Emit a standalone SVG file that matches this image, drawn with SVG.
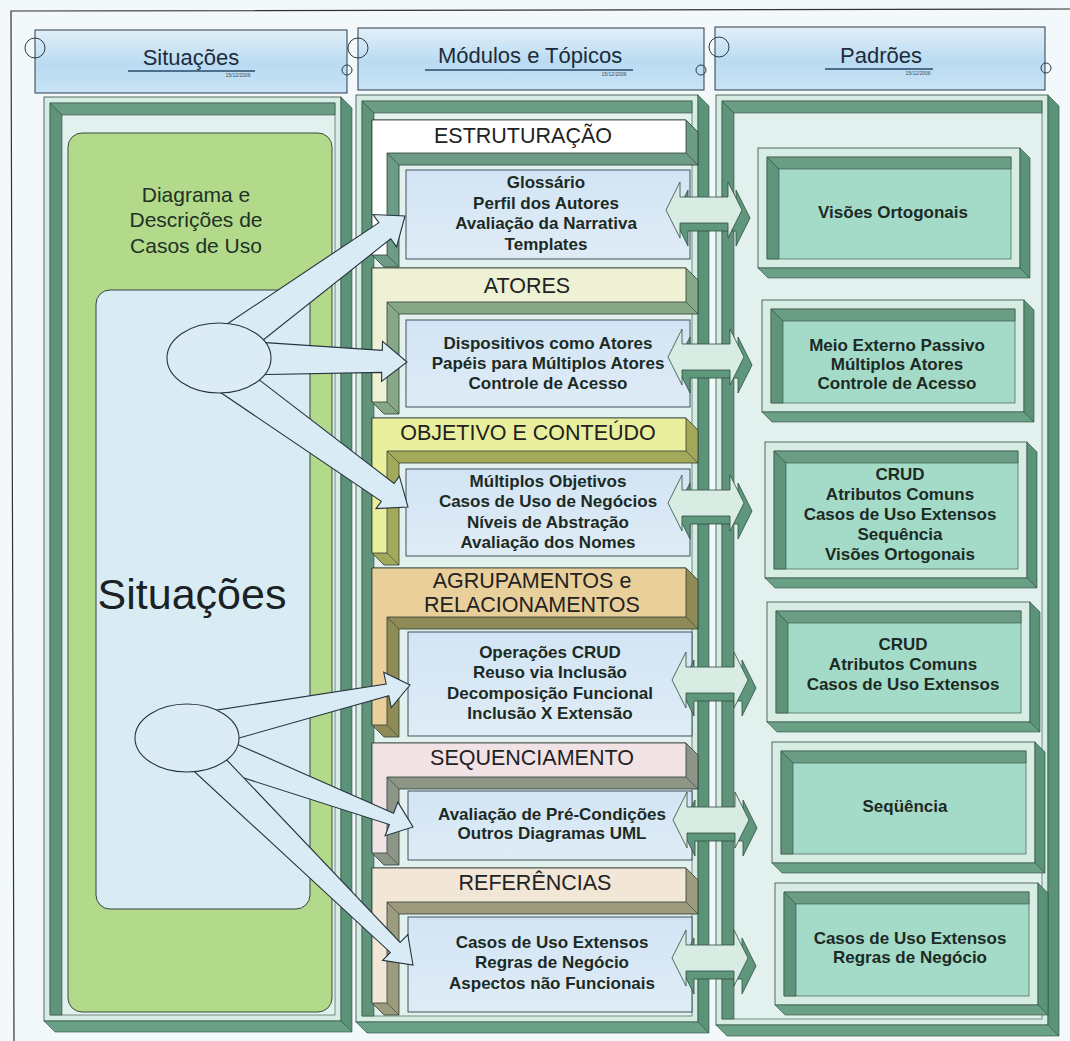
<svg xmlns="http://www.w3.org/2000/svg" xmlns:xlink="http://www.w3.org/1999/xlink" width="1070" height="1041" viewBox="0 0 1070 1041">
<defs>
<linearGradient id="hdr" x1="0" y1="0" x2="0" y2="1">
<stop offset="0" stop-color="#e2eff8"/><stop offset="0.55" stop-color="#b9dbf2"/><stop offset="1" stop-color="#c8e3f5"/>
</linearGradient>
<linearGradient id="cbox" x1="0" y1="0" x2="0" y2="1">
<stop offset="0" stop-color="#d2e4f4"/><stop offset="1" stop-color="#dfecf6"/>
</linearGradient>
<g id="dbl">
<path class="dx" d="M8,8 L22,-20 L22,-5 L70,-5 L70,-20 L84,8 L70,36 L70,21 L22,21 L22,36 Z"/>
<path class="df" d="M0,0 L14,-28 L14,-13 L62,-13 L62,-28 L76,0 L62,28 L62,13 L14,13 L14,28 Z"/>
</g>
</defs>
<style>
.ff{fill:#d7ece3;stroke:#2d4b3f;stroke-width:0.8}
.hole{fill:#e3f1ee;stroke:#2d4b3f;stroke-width:0.6}
.wt{fill:#6b9d85;stroke:#2d4b3f;stroke-width:0.6}
.wl{fill:#5f947b;stroke:#2d4b3f;stroke-width:0.6}
.ex{fill:#5b9378;stroke:#2d4b3f;stroke-width:0.6}
.exb{fill:#6aa186;stroke:#2d4b3f;stroke-width:0.6}
.pc{fill:#a4dac8;stroke:#2d4b3f;stroke-width:0.6}
.hb{fill:url(#hdr);stroke:#2b3a48;stroke-width:1}
.hc{fill:none;stroke:#2b3a48;stroke-width:1}
.ht{font-family:"Liberation Sans",Arial,sans-serif;font-size:22px;fill:#1d2b3a;text-anchor:middle}
.hd{font-family:"Liberation Sans",Arial,sans-serif;font-size:5px;fill:#3a4a5a;text-anchor:middle}
.hu{stroke:#2a4a6a;stroke-width:1.5}
.st{font-family:"Liberation Sans",Arial,sans-serif;font-size:21.5px;fill:#222;text-anchor:middle}
.bt{font-family:"Liberation Sans",Arial,sans-serif;font-size:17px;font-weight:bold;fill:#1c2a24;text-anchor:middle}
.cb{fill:url(#cbox);stroke:#2f3f4f;stroke-width:0.9}
.gl{fill:none;stroke:#2e3e36;stroke-width:0.6}
.gf{stroke:#2e3e36;stroke-width:0.8}
.ba{fill:#d9ebf5;stroke:#26343e;stroke-width:1.1}
.df{fill:#d8ece4;stroke:#2d4b3f;stroke-width:0.8}
.dx{fill:#5f977c;stroke:#2d4b3f;stroke-width:0.8}
</style>
<rect width="1070" height="1041" fill="#f3f8fa"/>
<path d="M14,1041 L11,11 L1070,9" fill="none" stroke="#333" stroke-width="1.2"/>

<!-- column headers -->
<g id="hdr-situacoes">
<rect class="hb" x="35" y="30" width="312" height="63"/>
<circle class="hc" cx="35" cy="48" r="10"/>
<circle class="hc" cx="347" cy="70" r="5"/>
<text class="ht" x="191" y="65">Situações</text>
<line class="hu" x1="128" y1="71" x2="255" y2="71"/>
<text class="hd" x="238" y="77">15/12/2006</text>
</g>
<g id="hdr-modulos">
<rect class="hb" x="358" y="28" width="346" height="62"/>
<circle class="hc" cx="358" cy="48" r="10"/>
<circle class="hc" cx="701" cy="70" r="5"/>
<text class="ht" x="530" y="63">Módulos e Tópicos</text>
<line class="hu" x1="425" y1="70" x2="633" y2="70"/>
<text class="hd" x="614" y="76">15/12/2006</text>
</g>
<g id="hdr-padroes">
<rect class="hb" x="715" y="27" width="330" height="63"/>
<circle class="hc" cx="719" cy="47" r="10"/>
<circle class="hc" cx="1046" cy="68" r="5"/>
<text class="ht" x="881" y="63">Padrões</text>
<line class="hu" x1="825" y1="69" x2="933" y2="69"/>
<text class="hd" x="918" y="75">15/12/2006</text>
</g>

<!-- column frames -->
<g id="frame-left">
<rect class="ff" x="44" y="97" width="297" height="924"/>
<rect class="hole" x="50" y="103" width="285" height="912"/>
<polygon class="wt" points="50,103 335,103 335,115 62,115"/>
<polygon class="wl" points="50,103 62,115 62,1015 50,1015"/>
<polygon class="ex" points="341,97 352,108 352,1032 341,1021"/>
<polygon class="exb" points="44,1021 341,1021 352,1032 55,1032"/>
</g>
<g id="frame-middle">
<rect class="ff" x="356" y="95" width="342" height="927"/>
<rect class="hole" x="362" y="101" width="330" height="915"/>
<polygon class="wt" points="362,101 692,101 692,113 374,113"/>
<polygon class="wl" points="362,101 374,113 374,1016 362,1016"/>
<polygon class="ex" points="698,95 709,106 709,1033 698,1022"/>
<polygon class="exb" points="356,1022 698,1022 709,1033 367,1033"/>
</g>
<g id="frame-right">
<rect class="ff" x="716" y="95" width="332" height="930"/>
<rect class="hole" x="722" y="101" width="320" height="918"/>
<polygon class="wt" points="722,101 1042,101 1042,113 734,113"/>
<polygon class="wl" points="722,101 734,113 734,1019 722,1019"/>
<polygon class="ex" points="1048,95 1059,106 1059,1036 1048,1025"/>
<polygon class="exb" points="716,1025 1048,1025 1059,1036 727,1036"/>
</g>

<!-- left column content -->
<g id="situacoes-area">
<rect x="68" y="133" width="264" height="879" rx="14" fill="#b3d98a" stroke="#34503a" stroke-width="1"/>
<text class="st" x="196" y="202" style="font-size:21px;fill:#1e3226">Diagrama e</text>
<text class="st" x="196" y="227" style="font-size:21px;fill:#1e3226">Descrições de</text>
<text class="st" x="196" y="253" style="font-size:21px;fill:#1e3226">Casos de Uso</text>
<rect x="96" y="290" width="214" height="619" rx="14" fill="#d9ebf3" stroke="#34424e" stroke-width="1"/>
<text class="st" x="192" y="609" style="font-size:43px;fill:#1a2226">Situações</text>
</g>

<!-- middle sections -->
<g id="sec-estruturacao">
<path class="gf" fill="#6d9c86" d="M372,120 L686,120 L698,132 L698,165 L399,165 L399,267 L384,267 L372,255 Z"/>
<path class="gf" fill="#ffffff" d="M372,120 H686 V153 H387 V255 H372 Z"/>
<path class="gl" d="M686,153 L698,165 M387,153 L399,165 M387,255 L399,267"/>
<text class="st" x="523" y="143">ESTRUTURAÇÃO</text>
<rect class="cb" x="406" y="170" width="284" height="89"/>
<text class="bt" x="546" y="188">Glossário</text>
<text class="bt" x="546" y="208.5">Perfil dos Autores</text>
<text class="bt" x="546" y="229">Avaliação da Narrativa</text>
<text class="bt" x="546" y="249.5">Templates</text>
</g>
<g id="sec-atores">
<path class="gf" fill="#86a887" d="M372,268 L686,268 L698,280 L698,314 L399,314 L399,414 L384,414 L372,402 Z"/>
<path class="gf" fill="#eef1d4" d="M372,268 H686 V302 H387 V402 H372 Z"/>
<path class="gl" d="M686,302 L698,314 M387,302 L399,314 M387,402 L399,414"/>
<text class="st" x="527" y="293">ATORES</text>
<rect class="cb" x="406" y="320" width="284" height="87"/>
<text class="bt" x="548" y="349">Dispositivos como Atores</text>
<text class="bt" x="548" y="369">Papéis para Múltiplos Atores</text>
<text class="bt" x="548" y="389">Controle de Acesso</text>
</g>
<g id="sec-objetivo">
<path class="gf" fill="#a3a95a" d="M372,418 L686,418 L698,430 L698,463 L399,463 L399,565 L384,565 L372,553 Z"/>
<path class="gf" fill="#e9ef9c" d="M372,418 H686 V451 H387 V553 H372 Z"/>
<path class="gl" d="M686,451 L698,463 M387,451 L399,463 M387,553 L399,565"/>
<text class="st" x="528" y="440">OBJETIVO E CONTEÚDO</text>
<rect class="cb" x="406" y="469" width="284" height="87"/>
<text class="bt" x="548" y="487">Múltiplos Objetivos</text>
<text class="bt" x="548" y="507">Casos de Uso de Negócios</text>
<text class="bt" x="548" y="528">Níveis de Abstração</text>
<text class="bt" x="548" y="548">Avaliação dos Nomes</text>
</g>
<g id="sec-agrupamentos">
<path class="gf" fill="#8e8b56" d="M372,568 L686,568 L698,580 L698,629 L399,629 L399,737 L384,737 L372,725 Z"/>
<path class="gf" fill="#e9cf9a" d="M372,568 H686 V617 H387 V725 H372 Z"/>
<path class="gl" d="M686,617 L698,629 M387,617 L399,629 M387,725 L399,737"/>
<text class="st" x="532" y="588">AGRUPAMENTOS e</text>
<text class="st" x="532" y="612">RELACIONAMENTOS</text>
<rect class="cb" x="408" y="632" width="284" height="104"/>
<text class="bt" x="550" y="658">Operações CRUD</text>
<text class="bt" x="550" y="678">Reuso via Inclusão</text>
<text class="bt" x="550" y="699">Decomposição Funcional</text>
<text class="bt" x="550" y="719">Inclusão X Extensão</text>
</g>
<g id="sec-sequenciamento">
<path class="gf" fill="#8d9686" d="M372,743 L686,743 L698,755 L698,789 L399,789 L399,865 L384,865 L372,853 Z"/>
<path class="gf" fill="#f1e2e6" d="M372,743 H686 V777 H387 V853 H372 Z"/>
<path class="gl" d="M686,777 L698,789 M387,777 L399,789 M387,853 L399,865"/>
<text class="st" x="532" y="765">SEQUENCIAMENTO</text>
<rect class="cb" x="408" y="791" width="284" height="69"/>
<text class="bt" x="552" y="820">Avaliação de Pré-Condições</text>
<text class="bt" x="552" y="839">Outros Diagramas UML</text>
</g>
<g id="sec-referencias">
<path class="gf" fill="#9c9b7e" d="M372,868 L686,868 L698,880 L698,914 L399,914 L399,1015 L384,1015 L372,1003 Z"/>
<path class="gf" fill="#f2e6d6" d="M372,868 H686 V902 H387 V1003 H372 Z"/>
<path class="gl" d="M686,902 L698,914 M387,902 L399,914 M387,1003 L399,1015"/>
<text class="st" x="535" y="890">REFERÊNCIAS</text>
<rect class="cb" x="408" y="917" width="284" height="95"/>
<text class="bt" x="552" y="948">Casos de Uso Extensos</text>
<text class="bt" x="552" y="968">Regras de Negócio</text>
<text class="bt" x="552" y="989">Aspectos não Funcionais</text>
</g>

<!-- pattern boxes -->
<g id="pad-1">
<rect class="ff" x="758" y="148" width="262" height="120"/>
<rect class="pc" x="767" y="157" width="244" height="102"/>
<polygon class="wt" points="767,157 1011,157 1011,169 779,169"/>
<polygon class="wl" points="767,157 779,169 779,259 767,259"/>
<polygon class="ex" points="1020,148 1030,158 1030,278 1020,268"/>
<polygon class="exb" points="758,268 1020,268 1030,278 768,278"/>
<text class="bt" x="893" y="218">Visões Ortogonais</text>
</g>
<g id="pad-2">
<rect class="ff" x="762" y="300" width="262" height="112"/>
<rect class="pc" x="771" y="309" width="244" height="94"/>
<polygon class="wt" points="771,309 1015,309 1015,321 783,321"/>
<polygon class="wl" points="771,309 783,321 783,403 771,403"/>
<polygon class="ex" points="1024,300 1034,310 1034,422 1024,412"/>
<polygon class="exb" points="762,412 1024,412 1034,422 772,422"/>
<text class="bt" x="897" y="351">Meio Externo Passivo</text>
<text class="bt" x="897" y="370">Múltiplos Atores</text>
<text class="bt" x="897" y="389">Controle de Acesso</text>
</g>
<g id="pad-3">
<rect class="ff" x="765" y="442" width="262" height="136"/>
<rect class="pc" x="774" y="451" width="244" height="118"/>
<polygon class="wt" points="774,451 1018,451 1018,463 786,463"/>
<polygon class="wl" points="774,451 786,463 786,569 774,569"/>
<polygon class="ex" points="1027,442 1037,452 1037,588 1027,578"/>
<polygon class="exb" points="765,578 1027,578 1037,588 775,588"/>
<text class="bt" x="900" y="480">CRUD</text>
<text class="bt" x="900" y="500">Atributos Comuns</text>
<text class="bt" x="900" y="520">Casos de Uso Extensos</text>
<text class="bt" x="900" y="540">Sequência</text>
<text class="bt" x="900" y="560">Visões Ortogonais</text>
</g>
<g id="pad-4">
<rect class="ff" x="767" y="602" width="263" height="120"/>
<rect class="pc" x="776" y="611" width="245" height="102"/>
<polygon class="wt" points="776,611 1021,611 1021,623 788,623"/>
<polygon class="wl" points="776,611 788,623 788,713 776,713"/>
<polygon class="ex" points="1030,602 1040,612 1040,732 1030,722"/>
<polygon class="exb" points="767,722 1030,722 1040,732 777,732"/>
<text class="bt" x="903" y="650">CRUD</text>
<text class="bt" x="903" y="670">Atributos Comuns</text>
<text class="bt" x="903" y="690">Casos de Uso Extensos</text>
</g>
<g id="pad-5">
<rect class="ff" x="772" y="742" width="263" height="121"/>
<rect class="pc" x="781" y="751" width="245" height="103"/>
<polygon class="wt" points="781,751 1026,751 1026,763 793,763"/>
<polygon class="wl" points="781,751 793,763 793,854 781,854"/>
<polygon class="ex" points="1035,742 1045,752 1045,873 1035,863"/>
<polygon class="exb" points="772,863 1035,863 1045,873 782,873"/>
<text class="bt" x="905" y="812">Seqüência</text>
</g>
<g id="pad-6">
<rect class="ff" x="775" y="883" width="263" height="122"/>
<rect class="pc" x="784" y="892" width="245" height="104"/>
<polygon class="wt" points="784,892 1029,892 1029,904 796,904"/>
<polygon class="wl" points="784,892 796,904 796,996 784,996"/>
<polygon class="ex" points="1038,883 1048,893 1048,1015 1038,1005"/>
<polygon class="exb" points="775,1005 1038,1005 1048,1015 785,1015"/>
<text class="bt" x="910" y="944">Casos de Uso Extensos</text>
<text class="bt" x="910" y="963">Regras de Negócio</text>
</g>

<!-- connectors -->
<g id="connectors">
<use xlink:href="#dbl" href="#dbl" x="666" y="210"/>
<use xlink:href="#dbl" href="#dbl" x="668" y="357"/>
<use xlink:href="#dbl" href="#dbl" x="668" y="503"/>
<use xlink:href="#dbl" href="#dbl" x="672" y="680"/>
<use xlink:href="#dbl" href="#dbl" x="673" y="820"/>
<use xlink:href="#dbl" href="#dbl" x="672" y="958"/>
<polygon class="ba" points="217.4,330.5 378.9,222.6 373,214.5 405,216 396.6,246.9 390.7,238.8 238.6,359.5"/>
<polygon class="ba" points="240.4,341 382.3,350.4 382.5,341.4 407,362 381.5,381.4 381.7,372.4 239.6,375"/>
<polygon class="ba" points="234.9,361.2 394.1,483.5 399.4,476.2 408,507 376,508.6 381.3,501.3 215.1,388.8"/>
<polygon class="ba" points="208.4,711.4 386.2,684 383.7,672.3 410,685 391.3,707.5 388.8,695.8 215.6,744.6"/>
<polygon class="ba" points="220.7,737 393.6,813.3 397.9,802.1 413,827 385.1,835.7 389.4,824.5 209.3,767"/>
<polygon class="ba" points="211.2,743.6 400.1,942.5 407.8,934.6 413,965 382.6,960.3 390.3,952.4 188.8,766.4"/>
</g>
<g id="ellipse-1"><ellipse cx="219" cy="358" rx="52" ry="35" fill="#dcecf4" stroke="#26343e" stroke-width="1.1"/></g>
<g id="ellipse-2"><ellipse cx="187" cy="738" rx="52" ry="34" fill="#dcecf4" stroke="#26343e" stroke-width="1.1"/></g>
</svg>
